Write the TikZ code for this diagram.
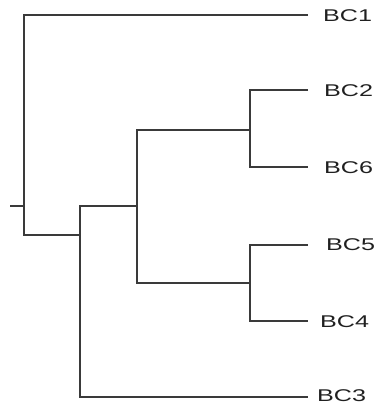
\documentclass[tikz,border=0pt]{standalone}
\usepackage{fontspec}
\newfontfamily\labfont[FakeStretch=1.48]{Liberation Sans}
\definecolor{treeline}{HTML}{3A3A3A}
\definecolor{labtext}{HTML}{202020}
\begin{document}
\begin{tikzpicture}[x=1pt,y=-1pt,
  branch/.style={draw=treeline,line width=1.7pt,line join=miter},
  leaflab/.style={anchor=west,inner sep=0pt,font=\labfont\fontsize{17}{17}\selectfont,text=labtext}]
\useasboundingbox (0,0) rectangle (379,405);
% leaf line ends
\coordinate (l1) at (308,15);
\coordinate (l2) at (308,90);
\coordinate (l6) at (308,167);
\coordinate (l5) at (308,245);
\coordinate (l4) at (308,321);
\coordinate (l3) at (308,397);
% internal node entry points
\coordinate (s)  at (10,206);
\coordinate (r)  at (24,206);
\coordinate (eA) at (80,235);
\coordinate (eB) at (137,206);
\coordinate (eC) at (250,130);
\coordinate (eD) at (250,283);
% labels
\node[leaflab] (t1) at (323,16) {BC1};
\node[leaflab] (t2) at (324,91) {BC2};
\node[leaflab] (t6) at (324,168) {BC6};
\node[leaflab] (t5) at (326,245) {BC5};
\node[leaflab] (t4) at (320,322) {BC4};
\node[leaflab] (t3) at (317,396) {BC3};
% branches
\draw[branch] (s) -- (r);
\draw[branch] (l1) -| (r) |- (eA);
\draw[branch] (eB) -| (eA) |- (l3);
\draw[branch] (eC) -| (eB) |- (eD);
\draw[branch] (l2) -| (eC) |- (l6);
\draw[branch] (l5) -| (eD) |- (l4);
\end{tikzpicture}
\end{document}
